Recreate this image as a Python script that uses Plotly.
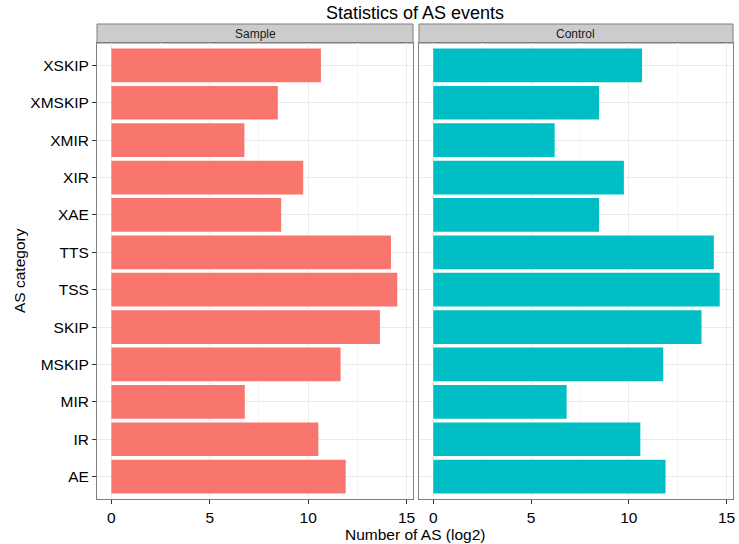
import plotly.graph_objects as go

categories = ["AE", "IR", "MIR", "MSKIP", "SKIP", "TSS", "TTS", "XAE", "XIR", "XMIR", "XMSKIP", "XSKIP"]
sample_vals = [11.91, 10.52, 6.78, 11.65, 13.65, 14.53, 14.21, 8.63, 9.75, 6.76, 8.46, 10.65]
control_vals = [11.88, 10.59, 6.82, 11.76, 13.72, 14.65, 14.35, 8.48, 9.75, 6.21, 8.48, 10.68]
panel_names = ["Sample", "Control"]
panel_colors = ["#F8766D", "#00BFC4"]
x_ticks = [0, 5, 10, 15]

FONT = "Liberation Sans, Arial, Helvetica, sans-serif"
W, H = 739, 544
ml, mr, mt, mb = 97, 4, 24, 45
plot_h = H - mt - mb
strip_h = 19
ydom_top = (plot_h - strip_h) / plot_h
pw = W - ml - mr
x1dom = [0, 317 / pw]
x2dom = [323 / pw, 1]
FS = 15.5

fig = go.Figure()
fig.add_trace(go.Bar(y=categories, x=sample_vals, orientation="h", marker=dict(color=panel_colors[0], line=dict(width=0)),
                     xaxis="x", yaxis="y", showlegend=False))
fig.add_trace(go.Bar(y=categories, x=control_vals, orientation="h", marker=dict(color=panel_colors[1], line=dict(width=0)),
                     xaxis="x2", yaxis="y2", showlegend=False))

xcommon = dict(range=[-0.73, 15.33], tickvals=x_ticks, ticks="outside", ticklen=4, tickcolor="#333333",
               showgrid=True, gridcolor="#EBEBEB", gridwidth=1, zeroline=False,
               showline=True, linecolor="#7F7F7F", linewidth=1, mirror=True,
               minor=dict(tickvals=[2.5, 7.5, 12.5], showgrid=True, gridcolor="#F7F7F7", ticklen=0),
               tickfont=dict(family=FONT, size=FS, color="#000000"))
ycommon = dict(type="category", categoryorder="array", categoryarray=categories, range=[-0.6, 11.6],
               showgrid=True, gridcolor="#EBEBEB",
               zeroline=False, showline=True, linecolor="#7F7F7F", linewidth=1, mirror=True,
               domain=[0, ydom_top], tickfont=dict(family=FONT, size=FS, color="#000000"))

fig.update_layout(
    width=W, height=H, margin=dict(l=ml, r=mr, t=mt, b=mb),
    paper_bgcolor="white", plot_bgcolor="white", bargap=0.1,
    xaxis=dict(domain=x1dom, anchor="y", **xcommon),
    xaxis2=dict(domain=x2dom, anchor="y2", **xcommon),
    yaxis=dict(anchor="x", ticks="outside", ticklen=4, tickcolor="#333333", **ycommon),
    yaxis2=dict(anchor="x2", matches="y", showticklabels=False, ticks="", **ycommon),
    font=dict(family=FONT, color="#000000"),
)

shapes = []
annotations = []
for dom, name in zip([x1dom, x2dom], panel_names):
    shapes.append(dict(type="rect", xref="paper", yref="paper", x0=dom[0], x1=dom[1], y0=ydom_top, y1=1.0,
                       fillcolor="#CCCCCC", line=dict(color="#7F7F7F", width=1), layer="below"))
    annotations.append(dict(text=name, xref="paper", yref="paper", x=(dom[0] + dom[1]) / 2, y=(ydom_top + 1) / 2,
                            showarrow=False, font=dict(family=FONT, size=12, color="#1A1A1A"),
                            xanchor="center", yanchor="middle"))

annotations.append(dict(text="Statistics of AS events", xref="paper", yref="paper",
                        x=0.5, y=1, yshift=-1, showarrow=False, yanchor="bottom",
                        font=dict(family=FONT, size=18, color="#000000")))
annotations.append(dict(text="Number of AS (log2)", xref="paper", yref="paper",
                        x=0.5, y=0, yshift=-25, showarrow=False, yanchor="top",
                        font=dict(family=FONT, size=FS, color="#000000")))
annotations.append(dict(text="AS category", xref="paper", yref="paper", textangle=-90,
                        x=0, xshift=-78, y=ydom_top / 2, showarrow=False, xanchor="center",
                        font=dict(family=FONT, size=FS, color="#000000")))

fig.update_layout(shapes=shapes, annotations=annotations)
fig.write_html("out.html")
